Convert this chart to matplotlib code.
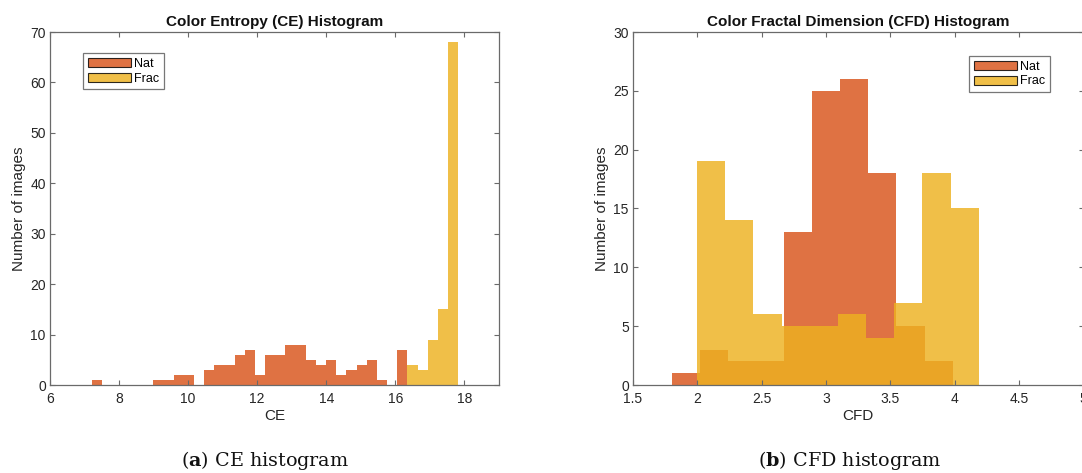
import numpy as np
import matplotlib
matplotlib.use("Agg")
import matplotlib.pyplot as plt
from matplotlib.patches import Patch

plt.rcParams["font.family"] = ["Liberation Sans", "DejaVu Sans"]
plt.rcParams["mathtext.fontset"] = "custom"
plt.rcParams["mathtext.rm"] = "DejaVu Serif"
plt.rcParams["mathtext.bf"] = "DejaVu Serif:bold"

# ---- Color Entropy histogram data ----
ce_first_edge = 7.224
ce_bin_width = 0.2943
ce_nat_counts = [1, 0, 0, 0, 0, 0, 1, 1, 2, 2, 0, 3, 4, 4, 6, 7, 2, 6, 6, 8,
                 8, 5, 4, 5, 2, 3, 4, 5, 1, 0, 7]
ce_frac_counts = [4, 3, 9, 15, 68]

# ---- Color Fractal Dimension histogram data ----
cfd_nat_first_edge = 1.802
cfd_nat_bin_width = 0.2181
cfd_nat_counts = [1, 3, 2, 2, 13, 25, 26, 18, 5, 2]
cfd_frac_first_edge = 1.997
cfd_frac_bin_width = 0.219
cfd_frac_counts = [19, 14, 6, 5, 5, 6, 4, 7, 18, 15]

series_labels = ["Nat", "Frac"]
ce_xticks = [6, 8, 10, 12, 14, 16, 18]
ce_yticks = [0, 10, 20, 30, 40, 50, 60, 70]
cfd_xticks = [1.5, 2, 2.5, 3, 3.5, 4, 4.5, 5]
cfd_yticks = [0, 5, 10, 15, 20, 25, 30]

NAT_COLOR = (217 / 255, 83 / 255, 25 / 255)
FRAC_COLOR = (237 / 255, 177 / 255, 32 / 255)
ALPHA = 0.82
AX_COLOR = "#6a6a6a"
TXT_COLOR = "#262626"


def edges_from(start, width, n):
    return start + width * np.arange(n + 1)


def draw_hist(ax, edges, counts, color):
    counts = np.asarray(counts, dtype=float)
    ax.bar(edges[:-1], counts, width=np.diff(edges), align="edge",
           color=color, alpha=ALPHA, linewidth=0)


def style_axes(ax, xlim, ylim, xticks, yticks, xlabel, title):
    ax.set_xlim(*xlim)
    ax.set_ylim(*ylim)
    ax.set_xticks(xticks)
    ax.set_xticklabels([f"{t:g}" for t in xticks])
    ax.set_yticks(yticks)
    ax.tick_params(direction="in", top=True, right=True, length=3.5,
                   width=0.8, colors=AX_COLOR, labelcolor=TXT_COLOR,
                   labelsize=10)
    ax.tick_params(axis="x", pad=5)
    ax.tick_params(axis="y", pad=3)
    for s in ax.spines.values():
        s.set_color(AX_COLOR)
        s.set_linewidth(0.9)
    ax.set_xlabel(xlabel, fontsize=11, color=TXT_COLOR, labelpad=2)
    ax.set_ylabel("Number of images", fontsize=11, color=TXT_COLOR,
                  labelpad=3)
    ax.set_title(title, fontsize=11, fontweight="bold", color="#111111",
                 pad=4)


def legend_handles():
    return [Patch(facecolor=NAT_COLOR, alpha=ALPHA, edgecolor="black",
                  linewidth=0.8, label=series_labels[0]),
            Patch(facecolor=FRAC_COLOR, alpha=ALPHA, edgecolor="black",
                  linewidth=0.8, label=series_labels[1])]


def add_legend(ax, anchor):
    leg = ax.legend(handles=legend_handles(), loc="upper left",
                    bbox_to_anchor=anchor, fontsize=9,
                    frameon=True, fancybox=False, edgecolor="#555555",
                    handlelength=3.4, handleheight=0.75, handletextpad=0.25,
                    borderpad=0.4, labelspacing=0.2, borderaxespad=0)
    leg.get_frame().set_linewidth(0.9)
    return leg


fig = plt.figure(figsize=(10.82, 4.73), dpi=100)
W, H = 1082, 473

# Left panel: CE
ax1 = fig.add_axes([50 / W, (H - 385) / H, 449 / W, 353 / H])
ce_edges = edges_from(ce_first_edge, ce_bin_width,
                      len(ce_nat_counts) + len(ce_frac_counts))
n_nat = len(ce_nat_counts)
draw_hist(ax1, ce_edges[:n_nat + 1], ce_nat_counts, NAT_COLOR)
draw_hist(ax1, ce_edges[n_nat:], ce_frac_counts, FRAC_COLOR)
style_axes(ax1, (6, 19), (0, 70), ce_xticks, ce_yticks, "CE",
           "Color Entropy (CE) Histogram")
add_legend(ax1, (33 / 449, 1 - 21 / 353))

# Right panel: CFD
ax2 = fig.add_axes([633 / W, (H - 385) / H, 450.5 / W, 353 / H])
cfd_nat_edges = edges_from(cfd_nat_first_edge, cfd_nat_bin_width,
                           len(cfd_nat_counts))
cfd_frac_edges = edges_from(cfd_frac_first_edge, cfd_frac_bin_width,
                            len(cfd_frac_counts))
draw_hist(ax2, cfd_nat_edges, cfd_nat_counts, NAT_COLOR)
draw_hist(ax2, cfd_frac_edges, cfd_frac_counts, FRAC_COLOR)
style_axes(ax2, (1.5, 5), (0, 30), cfd_xticks, cfd_yticks, "CFD",
           "Color Fractal Dimension (CFD) Histogram")
add_legend(ax2, (336 / 450.5, 1 - 24 / 353))

# Sub-figure captions
fig.text(265 / W, 1 - 460 / H, r"($\mathbf{a}$) CE histogram",
         fontsize=13.8, color="#111111", ha="center", va="center",
         fontfamily="DejaVu Serif")
fig.text(850 / W, 1 - 460 / H, r"($\mathbf{b}$) CFD histogram",
         fontsize=13.8, color="#111111", ha="center", va="center",
         fontfamily="DejaVu Serif")

fig.savefig("out.png", dpi=100)
